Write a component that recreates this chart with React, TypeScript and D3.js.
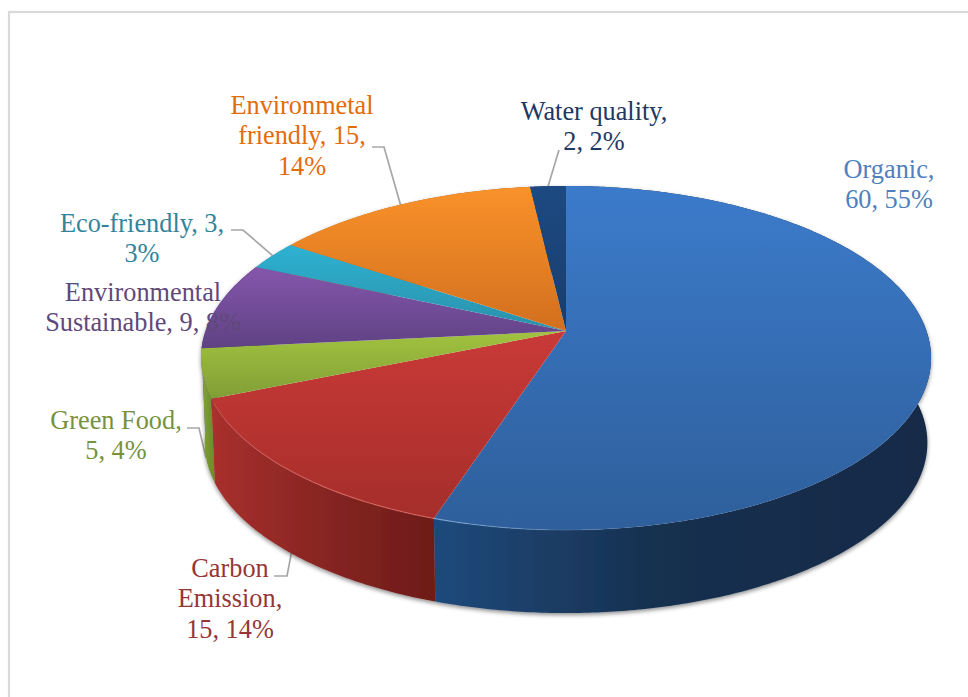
import React from "react";
import * as d3 from "d3";

// Survey themes and their counts, listed clockwise from twelve o'clock.
const categories = [
  "Organic",
  "Carbon Emission",
  "Green Food",
  "Environmental Sustainable",
  "Eco-friendly",
  "Environmetal friendly",
  "Water quality",
];
const counts = [60, 15, 5, 9, 3, 15, 2];

const labelLines = [
  ["Organic,", "60, 55%"],
  ["Carbon", "Emission,", "15, 14%"],
  ["Green Food,", "5, 4%"],
  ["Environmental", "Sustainable, 9, 8%"],
  ["Eco-friendly, 3,", "3%"],
  ["Environmetal", "friendly, 15,", "14%"],
  ["Water quality,", "2, 2%"],
];

const labelColors = ["#4f81bd", "#953735", "#76923c", "#5f497a", "#31849b", "#e36c0a", "#1f3864"];
const topColors: [string, string][] = [
  ["#3c7bcb", "#2e5f9b"],
  ["#c93a37", "#a52e2b"],
  ["#a2c340", "#809e35"],
  ["#8556ac", "#5f4284"],
  ["#2eb2d2", "#2a90aa"],
  ["#f9922a", "#d26f1e"],
  ["#1d4a82", "#173d6e"],
];
const wallColors: [string, string, string][] = [
  ["#1f4a7c", "#17304f", "#142a47"],
  ["#a8302d", "#8a2623", "#6d1b18"],
  ["#86a838", "#76982f", "#6a8c2c"],
  ["#5f4284", "#4f3670", "#452f62"],
  ["#2a90aa", "#237a90", "#1f6b80"],
  ["#d26f1e", "#b05c18", "#9c5114"],
  ["#173d6e", "#13325a", "#102a4c"],
];

// Drawing order for the outer wall: back slices first, then the front ones.
const wallOrder = [3, 4, 5, 6, 0, 2, 1];

// Perspective disc: the pie centre sits above the middle of the projected ellipse.
const CX = 566;
const CY = 331;
const SPREAD_X = 360.5;
const SPREAD_Y = 167.8;
const TILT = 0.157;
const DEPTH = 85;
const FLOOR_SCALE = 0.99;

type Pt = [number, number];

function project(angle: number, floor = false): Pt {
  const x = Math.sin(angle);
  const y = -Math.cos(angle);
  const w = 1 - TILT * y;
  const s = floor ? FLOOR_SCALE : 1;
  return [CX + (s * SPREAD_X * x) / w, CY + (floor ? DEPTH : 0) + (s * SPREAD_Y * y) / w];
}

function arcPoints(a0: number, a1: number, floor = false): Pt[] {
  const n = Math.max(2, Math.ceil(Math.abs(a1 - a0) / 0.01));
  return d3.range(n + 1).map((i) => project(a0 + ((a1 - a0) * i) / n, floor));
}

const line = d3.line<Pt>().x((d) => d[0]).y((d) => d[1]);

// Label placement: centre x, first baseline, and optional leader elbow.
const labelLayout: { x: number; y: number; elbow?: Pt[]; floor?: boolean }[] = [
  { x: 889, y: 178 },
  { x: 230, y: 577, elbow: [[274, 576], [287, 576]], floor: true },
  { x: 116, y: 429, elbow: [[187, 428], [199, 428]], floor: true },
  { x: 143, y: 301 },
  { x: 142, y: 232, elbow: [[231, 230], [243, 230]] },
  { x: 302, y: 114, elbow: [[372, 147], [384, 147]] },
  { x: 594, y: 120, elbow: [[559, 150]] },
];

const LINE_HEIGHT = 30.3;

export default function App() {
  const arcs = d3.pie<number>().sort(null).value((d) => d)(counts);

  return (
    <svg
      width={968}
      height={697}
      viewBox="0 0 968 697"
      style={{ position: "absolute", left: 0, top: 0, display: "block", background: "#fff" }}
    >
      <defs>
        {categories.map((_, i) => (
          <linearGradient key={i} id={`top-${i}`} x1="0" y1="0" x2="0" y2="1">
            <stop offset="0" stopColor={topColors[i][0]} />
            <stop offset="1" stopColor={topColors[i][1]} />
          </linearGradient>
        ))}
        {categories.map((_, i) => (
          <linearGradient key={i} id={`wall-${i}`} x1="0" y1="0" x2="1" y2="0">
            <stop offset="0" stopColor={wallColors[i][0]} />
            <stop offset="0.45" stopColor={wallColors[i][1]} />
            <stop offset="1" stopColor={wallColors[i][2]} />
          </linearGradient>
        ))}
        <linearGradient id="rim-blue" x1="0" y1="0" x2="1" y2="0">
          <stop offset="0" stopColor="#8fb6e6" stopOpacity="0.7" />
          <stop offset="0.22" stopColor="#8fb6e6" stopOpacity="0.25" />
          <stop offset="0.42" stopColor="#8fb6e6" stopOpacity="0" />
        </linearGradient>
        <linearGradient id="rim-red" x1="0" y1="0" x2="1" y2="0">
          <stop offset="0" stopColor="#e8706a" stopOpacity="0.1" />
          <stop offset="0.5" stopColor="#e8706a" stopOpacity="0.6" />
          <stop offset="1" stopColor="#e8706a" stopOpacity="0.6" />
        </linearGradient>
        <filter id="wall-shadow" x="-5%" y="-5%" width="110%" height="115%">
          <feDropShadow dx="0" dy="2" stdDeviation="2.2" floodColor="#000" floodOpacity="0.45" />
        </filter>
      </defs>

      <rect x={9} y={12} width={1200} height={1000} fill="none" stroke="#d9d9d9" strokeWidth={2.2} />

      <g fill="none" stroke="#a6a6a6" strokeWidth={1.7}>
        {labelLayout.map((l, i) => {
          if (!l.elbow) return null;
          const mid = (arcs[i].startAngle + arcs[i].endAngle) / 2;
          return <path key={i} d={line([...l.elbow, project(mid, !!l.floor)]) ?? ""} />;
        })}
      </g>

      <g filter="url(#wall-shadow)">
        {wallOrder.map((i) => {
          const a = arcs[i];
          const outline = [
            ...arcPoints(a.startAngle, a.endAngle),
            ...arcPoints(a.endAngle, a.startAngle, true),
          ];
          return <path key={i} d={(line(outline) ?? "") + "Z"} fill={`url(#wall-${i})`} />;
        })}
      </g>

      {arcs.map((a, i) => {
        const outline: Pt[] = [[CX, CY], ...arcPoints(a.startAngle, a.endAngle)];
        return <path key={i} d={(line(outline) ?? "") + "Z"} fill={`url(#top-${i})`} />;
      })}

      {/* Thin light edge where the near part of the disc meets the wall */}
      <path
        d={line(arcPoints(arcs[0].startAngle + Math.PI * 0.62, arcs[0].endAngle).reverse()) ?? ""}
        fill="none"
        stroke="url(#rim-blue)"
        strokeWidth={1.2}
      />
      <path
        d={line(arcPoints(arcs[1].startAngle, arcs[1].endAngle).reverse()) ?? ""}
        fill="none"
        stroke="url(#rim-red)"
        strokeWidth={1.2}
      />

      <g fontFamily="'Liberation Serif', serif" fontSize={26.3} textAnchor="middle">
        {labelLayout.map((l, i) => (
          <text key={i} x={l.x} y={l.y} fill={labelColors[i]}>
            {labelLines[i].map((t, k) => (
              <tspan key={k} x={l.x} y={l.y + k * LINE_HEIGHT}>
                {t}
              </tspan>
            ))}
          </text>
        ))}
      </g>
    </svg>
  );
}
